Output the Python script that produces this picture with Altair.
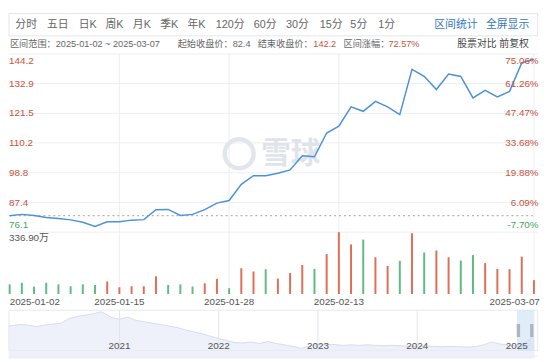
import altair as alt
import pandas as pd

# ---------------- data ----------------
dates = ["2025-01-02", "2025-01-03", "2025-01-06", "2025-01-07", "2025-01-08", "2025-01-09", "2025-01-10",
         "2025-01-13", "2025-01-14", "2025-01-15", "2025-01-16", "2025-01-17", "2025-01-20", "2025-01-21",
         "2025-01-22", "2025-01-23", "2025-01-24", "2025-01-27", "2025-01-28", "2025-02-03", "2025-02-04",
         "2025-02-05", "2025-02-06", "2025-02-07", "2025-02-10", "2025-02-11", "2025-02-12", "2025-02-13",
         "2025-02-14", "2025-02-17", "2025-02-18", "2025-02-19", "2025-02-20", "2025-02-21", "2025-02-24",
         "2025-02-25", "2025-02-26", "2025-02-27", "2025-02-28", "2025-03-03", "2025-03-04", "2025-03-05",
         "2025-03-06", "2025-03-07"]
close = [82.4, 82.9, 82.5, 81.7, 81.3, 80.8, 79.9, 78.3, 80.1, 80.1, 80.7, 80.9, 84.7, 84.8, 82.5,
         82.9, 84.7, 87.2, 88.2, 94.4, 97.7, 97.7, 98.6, 99.9, 105.3, 104.9, 114.0, 116.6, 124.0, 122.3,
         126.1, 124.0, 121.0, 138.3, 135.7, 130.6, 136.5, 135.6, 127.4, 130.3, 127.8, 129.9, 140.8, 142.2]
volume = [52.6, 61.4, 40.4, 61.4, 52.6, 42.1, 52.6, 49.1, 68.4, 36.8, 42.1, 42.1, 96.5, 49.1, 52.6,
          40.4, 57.9, 82.5, 31.6, 140.4, 122.8, 135.1, 84.2, 114.1, 157.9, 136.9, 217.6, 336.9, 270.2, 296.5,
          200.0, 152.7, 180.7, 331.6, 226.4, 236.9, 200.0, 182.5, 212.3, 168.5, 136.9, 135.1, 203.5, 75.5]
vol_dir = ["d", "d", "d", "d", "d", "d", "d", "d", "u", "u", "u", "u", "u", "d", "d",
           "d", "u", "u", "d", "u", "u", "d", "u", "u", "u", "d", "u", "u", "u", "d",
           "u", "u", "d", "u", "d", "u", "u", "d", "d", "u", "u", "u", "u", "u"]

price_ticks = [144.2, 132.9, 121.5, 110.2, 98.8, 87.4, 76.1]
pct_ticks = ["75.06%", "61.26%", "47.47%", "33.68%", "19.88%", "6.09%", "-7.70%"]
base_price = 82.4
vol_max = 336.9
vol_max_label = "336.90万"
date_ticks = ["2025-01-02", "2025-01-15", "2025-01-28", "2025-02-13", "2025-03-07"]

nav_dates = ["2019-11-20", "2019-12-01", "2020-01-01", "2020-02-01", "2020-03-01", "2020-04-01", "2020-05-01",
             "2020-06-01", "2020-07-01", "2020-08-01", "2020-09-01", "2020-10-01", "2020-10-25", "2020-11-01",
             "2020-12-01", "2021-01-01", "2021-02-01", "2021-03-01", "2021-04-01", "2021-05-01", "2021-06-01",
             "2021-07-01", "2021-08-01", "2021-09-01", "2021-10-01", "2021-11-01", "2021-12-01", "2022-01-01",
             "2022-02-01", "2022-03-01", "2022-04-01", "2022-05-01", "2022-06-01", "2022-07-01", "2022-08-01",
             "2022-09-01", "2022-10-01", "2022-11-01", "2022-12-01", "2023-01-01", "2023-02-01", "2023-03-01",
             "2023-04-01", "2023-05-01", "2023-06-01", "2023-07-01", "2023-08-01", "2023-09-01", "2023-10-01",
             "2023-11-01", "2023-12-01", "2024-01-01", "2024-02-01", "2024-03-01", "2024-04-01", "2024-05-01",
             "2024-06-01", "2024-07-01", "2024-08-01", "2024-09-01", "2024-10-01", "2024-11-01", "2024-12-01",
             "2025-01-02", "2025-02-01", "2025-03-01", "2025-03-07"]
nav_vals = [200, 205, 211, 208, 199, 208, 214,
            220, 250, 262, 270, 280, 290, 286,
            256, 244, 256, 238, 229, 220, 211,
            202, 193, 178, 166, 154, 139, 124,
            112, 100, 97, 103, 94, 106, 94,
            85, 76, 64, 79, 88, 86, 88,
            82, 85, 82, 86, 82, 80, 82,
            80, 78, 76, 78, 76, 74, 76,
            74, 72, 74, 85, 103, 91, 82,
            82.4, 97, 136, 142.2]
nav_years = ["2021", "2022", "2023", "2024", "2025"]

tabs = ["分时", "五日", "日K", "周K", "月K", "季K", "年K", "120分", "60分", "30分", "15分", "5分", "1分"]
tools = ["区间统计", "全屏显示"]
info_range = "区间范围：2025-01-02 ~ 2025-03-07"
info_start = "起始收盘价：82.4"
info_end_label = "结束收盘价："
info_end_value = "142.2"
info_chg_label = "区间涨幅："
info_chg_value = "72.57%"
info_right = "股票对比 前复权"
watermark = "雪球"

# ---------------- layout / style ----------------
def fx(rx):
    return round((rx - 3) * 0.99, 2)


def fy(ry):
    return round((ry - 3) * 0.985, 2)


FONT = "Liberation Sans, Noto Sans CJK SC, sans-serif"
RED_TXT = "#c9523b"
GREEN_TXT = "#3fa865"
GREY_TXT = "#666666"
DARK_TXT = "#444444"
BLUE_TXT = "#3578c0"
LINE = "#4a92dc"
VOL_RED = "#e06e56"
VOL_GREEN = "#5dbd80"
GRID = "#eceef2"

tab_left = [10.5, 43, 75.5, 103, 131, 159, 187, 216, 255, 288, 322.5, 354, 382.5]
tool_left = [440, 493]
info_left = [5, 177, 259, 316, 347, 393]

xs = alt.Scale(domain=[0, len(dates) - 1], range=[fx(4.7), fx(542.2)])
ys = alt.Scale(domain=[min(price_ticks), max(price_ticks)], range=[fy(231.3), fy(47.7)])
yv = alt.Scale(domain=[0, vol_max], range=[fy(295), fy(231.3)])
xn = alt.Scale(domain=[alt.DateTime(year=2021, month=1, date=1), alt.DateTime(year=2025, month=1, date=1)],
               range=[fx(117.3), fx(524.5)])
yn = alt.Scale(domain=[50, 300], range=[fy(353.3), fy(311.7)])


def text_layer(texts, xpos, ypos, colors, align="left", baseline="middle", size=10, weight="normal", font=FONT):
    df = pd.DataFrame({"t": texts, "x": xpos, "y": ypos, "c": colors})
    return alt.Chart(df).mark_text(align=align, baseline=baseline, fontSize=size, font=font,
                                   fontWeight=weight).encode(
        x=alt.X("x:Q", scale=None, axis=None),
        y=alt.Y("y:Q", scale=None, axis=None),
        text="t:N",
        color=alt.Color("c:N", scale=None, legend=None),
    )


one = pd.DataFrame({"k": [0]})
layers = []

# toolbar box
layers.append(alt.Chart(one).mark_rect(fill="white", stroke="#e4e6ea", strokeWidth=1).encode(
    x=alt.value(fx(4)), x2=alt.value(fx(546)), y=alt.value(fy(6)), y2=alt.value(fy(29))))
layers.append(text_layer(tabs, [fx(v) for v in tab_left], [fy(17.5)] * len(tabs), [GREY_TXT] * len(tabs), size=11))
layers.append(text_layer(tools, [fx(v) for v in tool_left], [fy(17.5)] * 2, [BLUE_TXT] * 2, size=11))

# info row
layers.append(text_layer(
    [info_range, info_start, info_end_label, info_end_value, info_chg_label, info_chg_value],
    [fx(v) for v in info_left], [fy(37.5)] * 6,
    [GREY_TXT, GREY_TXT, GREY_TXT, RED_TXT, GREY_TXT, RED_TXT], size=9.3))
layers.append(text_layer([info_right], [fx(537)], [fy(37.5)], [DARK_TXT], align="right", size=10))

# horizontal grid
grid_df = pd.DataFrame({"p": price_ticks})
layers.append(alt.Chart(grid_df).mark_rule(color=GRID, strokeWidth=1).encode(
    y=alt.Y("p:Q", scale=ys, axis=None), x=alt.value(fx(4)), x2=alt.value(fx(546))))

# vertical grid
vg_df = pd.DataFrame({"i": [dates.index(d) for d in date_ticks[1:]]})
layers.append(alt.Chart(vg_df).mark_rule(color=GRID, strokeWidth=1).encode(
    x=alt.X("i:Q", scale=xs, axis=None), y=alt.value(fy(47.7)), y2=alt.value(fy(295))))

# watermark
layers.append(alt.Chart(one).mark_point(shape="circle", filled=False, size=860, strokeWidth=4.5,
                                          color="#e1e5ec", opacity=1).encode(
    x=alt.value(fx(240)), y=alt.value(fy(150.5))))
layers.append(text_layer([watermark], [fx(293)], [fy(151)], ["#dfe3ea"], align="center", size=30, weight="bold",
                         font="Noto Sans CJK SC"))

# baseline dotted
layers.append(alt.Chart(pd.DataFrame({"b": [base_price]})).mark_rule(
    color="#a0a0a0", strokeDash=[2, 3], strokeWidth=1).encode(
    y=alt.Y("b:Q", scale=ys, axis=None), x=alt.value(fx(4)), x2=alt.value(fx(541))))

# price line
price_df = pd.DataFrame({"i": list(range(len(dates))), "date": dates, "close": close})
layers.append(alt.Chart(price_df).mark_line(color=LINE, strokeWidth=1.5).encode(
    x=alt.X("i:Q", scale=xs, axis=None), y=alt.Y("close:Q", scale=ys, axis=None)))

# volume
vol_df = pd.DataFrame({"i": list(range(len(dates))), "vol": volume,
                       "c": [VOL_RED if d == "u" else VOL_GREEN for d in vol_dir]})
layers.append(alt.Chart(vol_df).mark_rule(strokeWidth=2).encode(
    x=alt.X("i:Q", scale=xs, axis=None), y=alt.Y("vol:Q", scale=yv, axis=None), y2=alt.datum(0),
    color=alt.Color("c:N", scale=None, legend=None)))

# price axis labels (left & right)
lab_df = pd.DataFrame({"p": price_ticks, "pct": pct_ticks,
                       "c": [GREEN_TXT if v < base_price else RED_TXT for v in price_ticks],
                       "s": [f"{v:.1f}" for v in price_ticks]})
parts = [(lab_df.iloc[[0]], "top", 2), (lab_df.iloc[1:-1], "middle", 0), (lab_df.iloc[[-1]], "bottom", -2)]
for part, bl, dy in parts:
    layers.append(alt.Chart(part).mark_text(align="left", baseline=bl, dy=dy, fontSize=10, font=FONT).encode(
        y=alt.Y("p:Q", scale=ys, axis=None), x=alt.value(fx(4)), text="s:N",
        color=alt.Color("c:N", scale=None, legend=None)))
    layers.append(alt.Chart(part).mark_text(align="right", baseline=bl, dy=dy, fontSize=10, font=FONT).encode(
        y=alt.Y("p:Q", scale=ys, axis=None), x=alt.value(fx(547)), text="pct:N",
        color=alt.Color("c:N", scale=None, legend=None)))

# volume max label
layers.append(alt.Chart(pd.DataFrame({"v": [vol_max], "s": [vol_max_label]})).mark_text(
    align="left", baseline="top", dy=1, fontSize=10, font=FONT, color="#555555").encode(
    y=alt.Y("v:Q", scale=yv, axis=None), x=alt.value(fx(4)), text="s:N"))

# date labels
dl_df = pd.DataFrame({"i": [dates.index(d) for d in date_ticks], "s": date_ticks})
for part, al in [(dl_df.iloc[[0]], "left"), (dl_df.iloc[1:-1], "center"), (dl_df.iloc[[-1]], "right")]:
    layers.append(alt.Chart(part).mark_text(align=al, baseline="middle", fontSize=10, font=FONT,
                                            color="#555555",
                                            dx={"left": 0, "center": 0, "right": 6}[al]).encode(
        x=alt.X("i:Q", scale=xs, axis=None), y=alt.value(fy(303)), text="s:N"))

# navigator
nav_df = pd.DataFrame({"d": nav_dates, "v": nav_vals})
layers.append(alt.Chart(one).mark_rect(fill="white", stroke="#e6e8ec", strokeWidth=1).encode(
    x=alt.value(fx(4)), x2=alt.value(fx(546)), y=alt.value(fy(311.7)), y2=alt.value(fy(353.3))))
layers.append(alt.Chart(nav_df).mark_area(color="#e7ebf6", line={"color": "#cdd5ea", "strokeWidth": 0.8}).encode(
    x=alt.X("d:T", scale=xn, axis=None), y=alt.Y("v:Q", scale=yn, axis=None), y2=alt.value(fy(353.3))))
yr_df = pd.DataFrame({"d": [f"{y}-01-01" for y in nav_years], "s": nav_years})
layers.append(alt.Chart(yr_df.iloc[:-1]).mark_rule(color="#e2e5ea", strokeWidth=1).encode(
    x=alt.X("d:T", scale=xn, axis=None), y=alt.value(fy(311.7)), y2=alt.value(fy(353.3))))
sel_df = pd.DataFrame({"a": [dates[0]], "b": [dates[-1]]})
layers.append(alt.Chart(sel_df).mark_rect(fill="#c9dcf4", opacity=0.55).encode(
    x=alt.X("a:T", scale=xn, axis=None), x2="b:T", y=alt.value(fy(311.7)), y2=alt.value(fy(353.3))))
layers.append(alt.Chart(yr_df).mark_text(align="center", baseline="middle", fontSize=10, font=FONT,
                                         color="#555555").encode(
    x=alt.X("d:T", scale=xn, axis=None), y=alt.value(fy(348.3)), text="s:N"))
layers.append(alt.Chart(sel_df).mark_rule(color="#b0b4bb", strokeWidth=3.4, xOffset=1.5).encode(
    x=alt.X("a:T", scale=xn, axis=None), y=alt.value(fy(326)), y2=alt.value(fy(339.3))))
layers.append(alt.Chart(sel_df).mark_rule(color="#b0b4bb", strokeWidth=3.4, xOffset=-2.6).encode(
    x=alt.X("b:T", scale=xn, axis=None), y=alt.value(fy(326)), y2=alt.value(fy(339.3))))
layers.append(alt.Chart(one).mark_rule(color="#eeeeee", strokeWidth=1).encode(
    x=alt.value(fx(4)), x2=alt.value(fx(546)), y=alt.value(fy(359))))

chart = alt.layer(*layers).resolve_scale(
    x="independent", y="independent", color="independent"
).properties(
    width=542, height=354, padding=0, autosize=alt.AutoSizeParams(type="none")
).configure_view(stroke=None)

chart.save("out.html", embed_options={"renderer": "svg", "actions": False})
